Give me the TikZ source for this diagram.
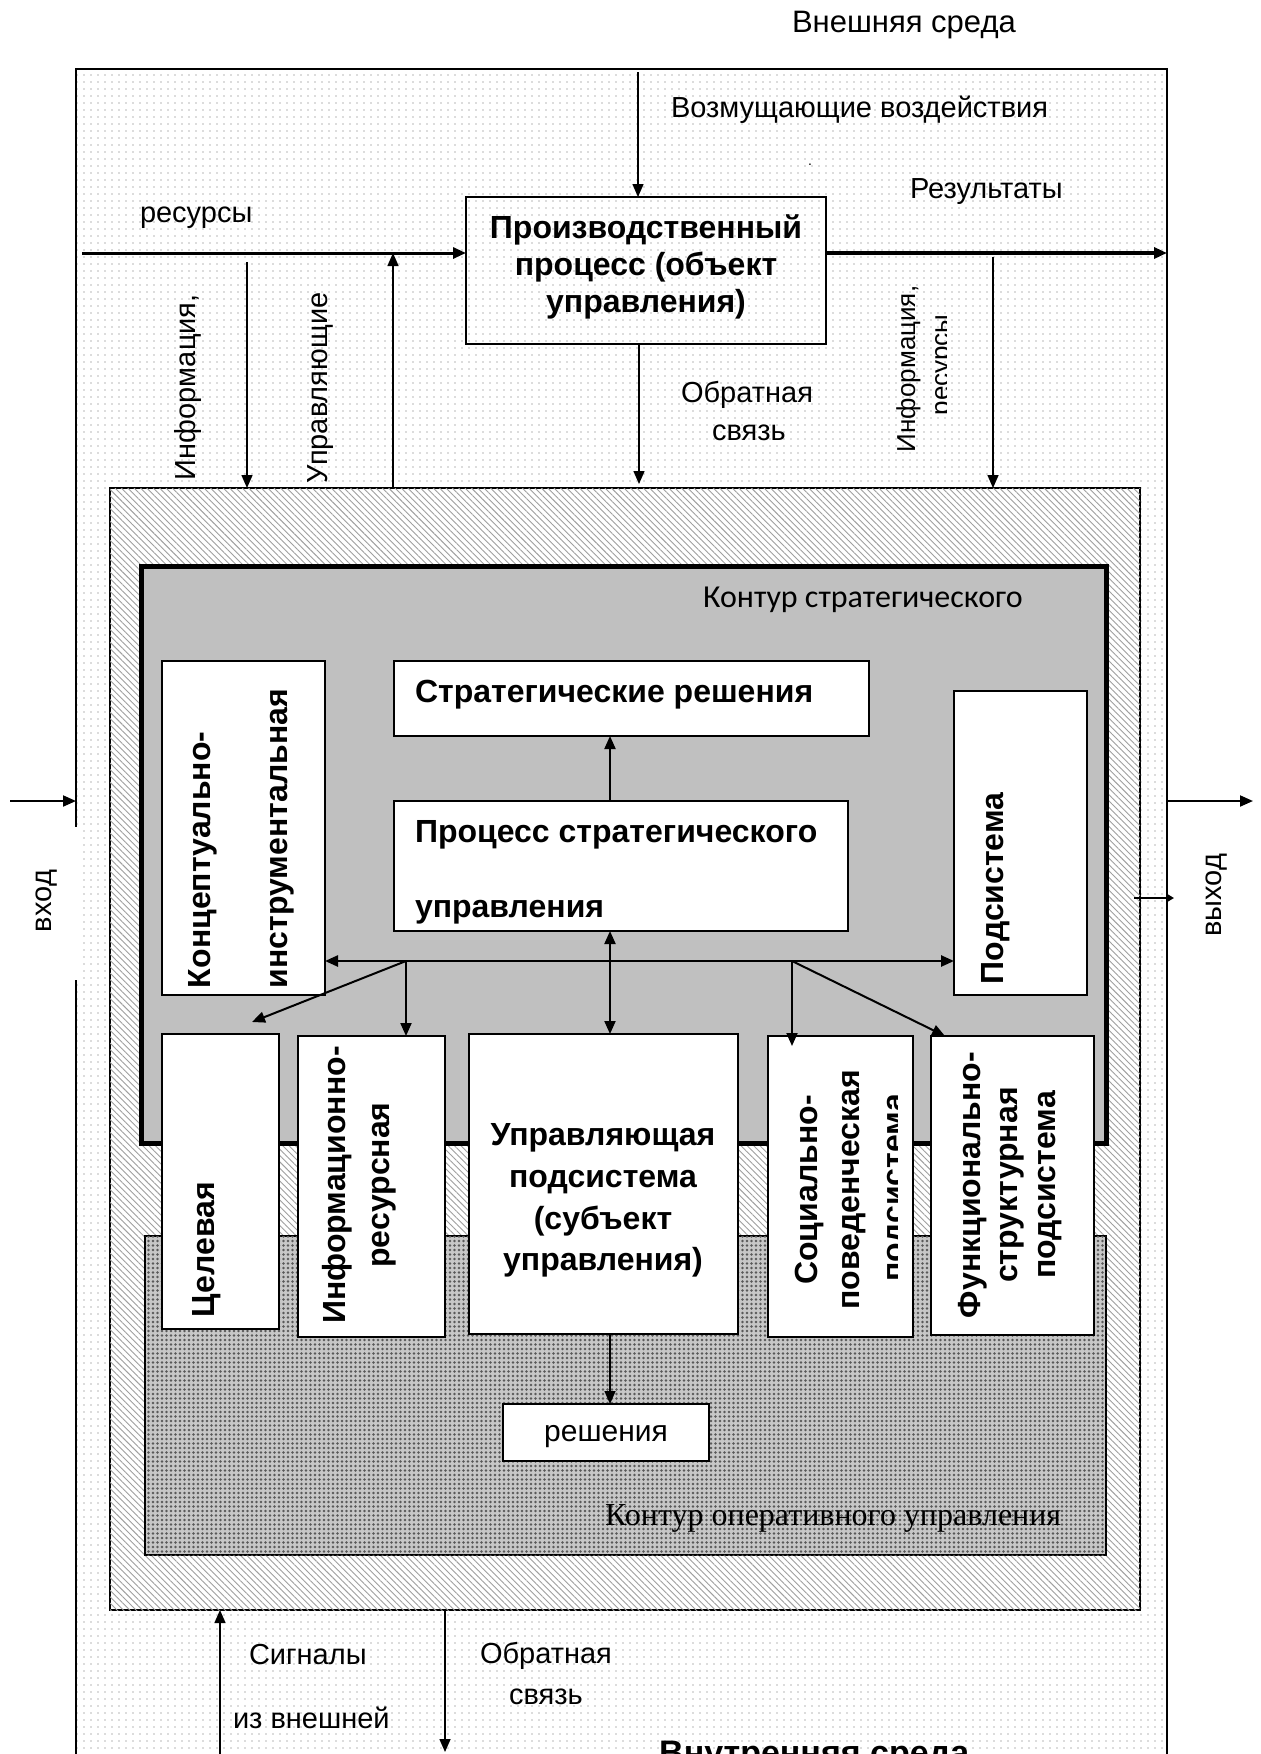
\documentclass[tikz,border=0pt]{standalone}
\usepackage{fontspec}
\setmainfont{Liberation Sans}
\newfontfamily\serifru{Liberation Serif}
\newfontfamily\carlru{Carlito}
\usetikzlibrary{arrows.meta,patterns.meta}
\definecolor{stratgray}{RGB}{192,192,192}
\newcommand\myfs[1]{\fontsize{#1pt}{#1pt}\selectfont}
\begin{document}
\begin{tikzpicture}[x=1pt,y=-1pt,
  rect/.style={draw=black, inner sep=0pt, outer sep=0pt, anchor=north west},
  wbox/.style={rect, fill=white, line width=1.5pt},
  arr/.style={-{Triangle[length=13pt,width=11pt]}, line width=1.5pt},
  darr/.style={{Triangle[length=13pt,width=11pt]}-{Triangle[length=13pt,width=11pt]}, line width=2.5pt},
  txt/.style={inner sep=0pt, outer sep=0pt, font=\myfs{29}},
  btxt/.style={inner sep=0pt, outer sep=0pt, font=\bfseries\myfs{32}},
  vert/.style={rotate=90}
]
\useasboundingbox (0,0) rectangle (1261,1754);
\clip (0,0) rectangle (1261,1754);
\fill[white] (0,0) rectangle (1261,1754);

% ---------- containers ----------
\node[rect, line width=2pt, minimum width=1091pt, minimum height=1700pt,
      pattern={Dots[distance=6.5pt,radius=0.9pt]}, pattern color=gray!55] (outer) at (76,69) {};
\node[inner sep=0pt, outer sep=0pt, anchor=north west, fill=white,
      minimum width=20pt, minimum height=153pt] (vhodbg) at (60,827) {};
\node[rect, line width=1.5pt, minimum width=1030pt, minimum height=1122pt, fill=white,
      postaction={pattern={Lines[angle=-45,distance=4.5pt,line width=0.9pt]}, pattern color=gray!75}] (hatch) at (110,488) {};
\node[rect, line width=5pt, minimum width=965pt, minimum height=577pt, fill=stratgray] (stratc) at (141,566) {};
\node[rect, line width=1.5pt, minimum width=961pt, minimum height=319pt, fill=black!22,
      postaction={pattern={Dots[distance=4.5pt,radius=1.3pt]}, pattern color=black!65}] (operc) at (145,1236) {};

% ---------- boxes ----------
\node[rect, line width=2pt, minimum width=360pt, minimum height=147pt] (prod) at (466,197) {};
\node[wbox, minimum width=163pt, minimum height=334pt] (concept) at (162,661) {};
\node[wbox, minimum width=475pt, minimum height=75pt] (sdec) at (394,661) {};
\node[wbox, minimum width=454pt, minimum height=130pt] (sproc) at (394,801) {};
\node[wbox, minimum width=133pt, minimum height=304pt] (podsys) at (954,691) {};
\node[wbox, minimum width=117pt, minimum height=295pt] (celev) at (162,1034) {};
\node[wbox, minimum width=147pt, minimum height=301pt] (infres) at (298,1036) {};
\node[wbox, minimum width=269pt, minimum height=300pt] (upr) at (469,1034) {};
\node[wbox, minimum width=145pt, minimum height=301pt] (social) at (768,1036) {};
\node[wbox, minimum width=163pt, minimum height=299pt] (func) at (931,1036) {};
\node[wbox, minimum width=206pt, minimum height=57pt] (resh) at (503,1404) {};

% ---------- coordinates ----------
\coordinate (dist) at (638,72);
\coordinate (resin) at (82,253);
\coordinate (infa) at (247,262);
\coordinate (ctrl) at (393,253);
\coordinate (fbend) at (639,484);
\coordinate (ir) at (993,257);
\coordinate (cx) at (610,0);
\coordinate (h1) at (406,961);
\coordinate (h2) at (792,961);
\coordinate (d1) at (252,1022);
\coordinate (d2) at (792,1046);
\coordinate (d3) at (945,1036);
\coordinate (vin) at (10,801);
\coordinate (vout) at (1253,801);
\coordinate (sm1) at (1134,898);
\coordinate (sm2) at (1174,898);
\coordinate (bu) at (220,1754);
\coordinate (bd) at (445,1752);

% ---------- connectors ----------
\draw[arr] (dist) -- (prod.north -| dist);
\draw[arr, line width=3pt] (resin) -- (resin -| prod.west);
\draw[arr, line width=4.5pt] (resin -| prod.east) -- (resin -| outer.east);
\draw[arr] (infa) -- (infa |- hatch.north);
\draw[arr] (ctrl |- hatch.north) -- (ctrl);
\draw[arr] (fbend |- prod.south) -- (fbend);
\draw[arr] (ir) -- (ir |- hatch.north);
\draw[arr, line width=2pt] (sproc.north -| cx) -- (sdec.south -| cx);
\draw[darr] (h1 -| concept.east) -- (h1 -| podsys.west);
\draw[darr, line width=2pt] (sproc.south -| cx) -- (upr.north -| cx);
\draw[arr, line width=2pt] (h1) -- (d1);
\draw[arr, line width=2pt] (h1) -- (h1 |- infres.north);
\draw[arr, line width=2pt] (h2) -- (d2);
\draw[arr, line width=2pt] (h2) -- (d3);
\draw[arr] (upr.south -| cx) -- (resh.north -| cx);
\draw[arr, line width=2pt] (vin) -- (vin -| outer.west);
\draw[arr, line width=2pt] (outer.east |- vout) -- (vout);
\draw[-{Triangle[length=8pt,width=9pt]}, line width=2pt] (sm1) -- (sm2);
\draw[arr] (bu) -- (bu |- hatch.south);
\draw[arr] (hatch.south -| bd) -- (bd);

% ---------- texts ----------
\node[txt, anchor=base west, font=\myfs{31}] (tvs) at (792,32) {Внешняя среда};
\node[txt, anchor=base west] (tvoz) at (671,117) {Возмущающие воздействия};
\node[txt, anchor=base, font=\myfs{14}] (tdot) at (810,165) {.};
\node[txt, anchor=base west] (tres) at (140,222) {ресурсы};
\node[txt, anchor=base west] (trez) at (910,198) {Результаты};
\node[btxt, anchor=base] (tp1) at (646,238) {Производственный};
\node[btxt, anchor=base] (tp2) at (646,275) {процесс (объект};
\node[btxt, anchor=base] (tp3) at (646,312) {управления)};
\node[txt, anchor=base] (tob1) at (747,402) {Обратная};
\node[txt, anchor=base] (tob2) at (749,440) {связь};
\node[txt, vert, anchor=base west] (tinfl) at (195,480) {Информация,};
\node[txt, vert, anchor=base west] (tuprl) at (327,483) {Управляющие};
\node[txt, vert, anchor=base, font=\myfs{26}] (tinfr) at (915,369) {Информация,};
\begin{scope}
  \clip (900,280) rectangle (946,460);
  \node[txt, vert, anchor=base, font=\myfs{26}] (tresr) at (949,365) {ресурсы};
\end{scope}

\node[inner sep=0pt, anchor=base west, font=\carlru\myfs{32}] (tkstr) at (703,607) {Контур стратегического};
\node[btxt, anchor=base west] (tsd) at (415,702) {Стратегические решения};
\node[btxt, anchor=base west] (tsp1) at (415,842) {Процесс стратегического};
\node[btxt, anchor=base west] (tsp2) at (415,917) {управления};
\node[btxt, vert, anchor=base west] (tc1) at (210,988) {Концептуально-};
\node[btxt, vert, anchor=base west] (tc2) at (287,988) {инструментальная};
\node[btxt, vert, anchor=base west] (tps) at (1003,984) {Подсистема};
\node[btxt, vert, anchor=base west] (tcel) at (214,1317) {Целевая};
\node[btxt, vert, anchor=base] (tir1) at (345,1185) {Информационно-};
\node[btxt, vert, anchor=base] (tir2) at (389,1185) {ресурсная};
\node[btxt, anchor=base] (tu1) at (603,1145) {Управляющая};
\node[btxt, anchor=base] (tu2) at (603,1187) {подсистема};
\node[btxt, anchor=base] (tu3) at (603,1229) {(субъект};
\node[btxt, anchor=base] (tu4) at (603,1270) {управления)};
\node[btxt, vert, anchor=base] (ts1) at (817,1190) {Социально-};
\node[btxt, vert, anchor=base] (ts2) at (859,1190) {поведенческая};
\begin{scope}
  \clip (870,1040) rectangle (897,1330);
  \node[btxt, vert, anchor=base] (ts3) at (904,1188) {подсистема};
\end{scope}
\node[btxt, vert, anchor=base] (tf1) at (980,1185) {Функционально-};
\node[btxt, vert, anchor=base] (tf2) at (1017,1185) {структурная};
\node[btxt, vert, anchor=base] (tf3) at (1055,1185) {подсистема};
\node[txt, anchor=base, font=\myfs{30}] (tresh) at (606,1441) {решения};
\node[inner sep=0pt, anchor=base west, font=\serifru\myfs{32}] (tkop) at (605,1525) {Контур оперативного управления};

\node[txt, vert, anchor=base] (tvhod) at (51,901) {вход};
\node[txt, vert, anchor=base] (tvyh) at (1221,895) {выход};
\node[txt, anchor=base west] (tsig1) at (249,1664) {Сигналы};
\node[txt, anchor=base west] (tsig2) at (233,1728) {из внешней};
\node[txt, anchor=base west] (tob3) at (480,1663) {Обратная};
\node[txt, anchor=base west] (tob4) at (509,1704) {связь};
\node[inner sep=0pt, anchor=base west, font=\bfseries\myfs{34}] (tvn) at (659,1764) {Внутренняя среда};
\end{tikzpicture}
\end{document}
